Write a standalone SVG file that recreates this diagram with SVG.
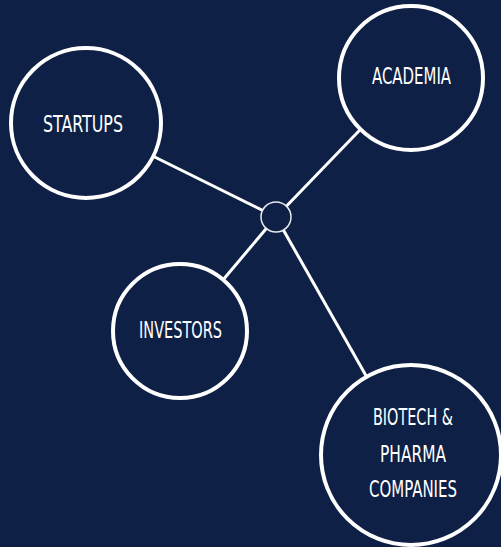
<svg xmlns="http://www.w3.org/2000/svg" width="501" height="547" viewBox="0 0 501 547">
<style>
.bg{fill:#0e2045}
.node{fill:#0e2045;stroke:#ffffff;stroke-width:4}
.hub{fill:#0e2045;stroke:#e8eaf0;stroke-width:1.5}
.edge{stroke:#ffffff;stroke-width:3;fill:none}
.lbl{fill:#ffffff;font-family:"Liberation Sans Narrow","DejaVu Sans Condensed","Liberation Sans",sans-serif;font-stretch:condensed;font-size:23.5px;text-anchor:middle}
</style>
<rect class="bg" x="0" y="0" width="501" height="547"/>
<g id="connectors">
<line class="edge" x1="86" y1="123" x2="276" y2="217"/>
<line class="edge" x1="276" y1="217" x2="409" y2="79"/>
<line class="edge" x1="276" y1="217" x2="180" y2="331"/>
<line class="edge" x1="276" y1="217" x2="411" y2="455"/>
</g>
<g id="hub"><circle class="hub" cx="276" cy="217" r="15"/></g>
<g id="startups">
<circle class="node" cx="86" cy="123" r="75"/>
<text class="lbl" x="83" y="132" textLength="80" lengthAdjust="spacingAndGlyphs">STARTUPS</text>
</g>
<g id="academia">
<circle class="node" cx="411" cy="78" r="72"/>
<text class="lbl" x="411.5" y="84" textLength="79" lengthAdjust="spacingAndGlyphs">ACADEMIA</text>
</g>
<g id="investors">
<circle class="node" cx="180" cy="331" r="67"/>
<text class="lbl" x="180.5" y="338" textLength="83" lengthAdjust="spacingAndGlyphs">INVESTORS</text>
</g>
<g id="biotech">
<circle class="node" cx="411" cy="455" r="90"/>
<text class="lbl" x="413" y="425" textLength="80" lengthAdjust="spacingAndGlyphs">BIOTECH &amp;</text>
<text class="lbl" x="413" y="462" textLength="66" lengthAdjust="spacingAndGlyphs">PHARMA</text>
<text class="lbl" x="413" y="497" textLength="88" lengthAdjust="spacingAndGlyphs">COMPANIES</text>
</g>
</svg>
